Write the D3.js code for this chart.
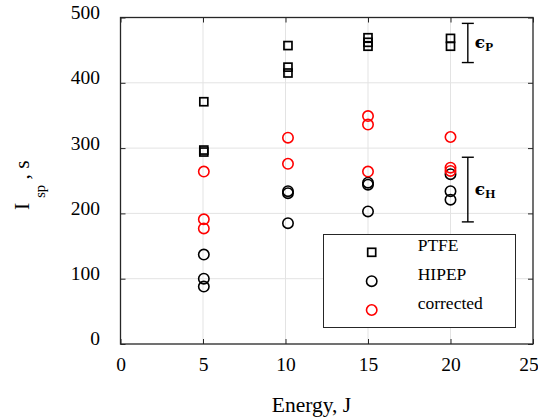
<!DOCTYPE html>
<html>
<head>
<meta charset="utf-8">
<script src="https://cdn.jsdelivr.net/npm/d3@7"></script>
<style>
  body { margin: 0; background: #fff; }
  text { font-family: "Liberation Serif", "Times New Roman", serif; fill: #000; }
</style>
</head>
<body>
<div id="chart"></div>
<script>
const width = 538;
const height = 419;
const margin = {top: 17.5, right: 5, bottom: 75, left: 120.5};

// data
const ptfeX = [5.05, 5.05, 5.05, 10.15, 10.15, 10.15, 15.0, 15.0, 15.0, 20.0, 20.0];
const ptfeY = [371, 297, 294, 457, 424, 415, 469, 462, 456, 468, 456];
const hipepX = [5.05, 5.05, 5.05, 10.15, 10.15, 10.15, 15.0, 15.0, 15.0, 20.0, 20.0, 20.0];
const hipepY = [137, 100, 88, 234, 231, 185, 247, 244, 203, 260, 234, 221];
const corrX = [5.05, 5.05, 5.05, 10.15, 10.15, 15.0, 15.0, 15.0, 20.0, 20.0, 20.0];
const corrY = [264, 191, 177, 316, 276, 349, 336, 264, 317, 270, 265];
const xTicks = [0, 5, 10, 15, 20, 25];
const yTicks = [0, 100, 200, 300, 400, 500];
const errBars = [
  {name: "P", x: 21.05, lo: 431, hi: 491},
  {name: "H", x: 21.05, lo: 187, hi: 286}
];
const legendItems = ["PTFE", "HIPEP", "corrected"];

const svg = d3.select("#chart").append("svg")
    .attr("width", width)
    .attr("height", height);

const x = d3.scaleLinear().domain([0, 25]).range([margin.left, width - margin.right]);
const y = d3.scaleLinear().domain([0, 500]).range([height - margin.bottom, margin.top]);

const axisColor = "#262626";

// grid
svg.append("g")
    .selectAll("line")
    .data(xTicks.slice(1, -1))
    .join("line")
    .attr("x1", d => x(d)).attr("x2", d => x(d))
    .attr("y1", y(0)).attr("y2", y(500))
    .attr("stroke", "#e3e3e3").attr("stroke-width", 1);
svg.append("g")
    .selectAll("line")
    .data(yTicks.slice(1, -1))
    .join("line")
    .attr("x1", x(0)).attr("x2", x(25))
    .attr("y1", d => y(d)).attr("y2", d => y(d))
    .attr("stroke", "#e3e3e3").attr("stroke-width", 1);

// axes, ticks pointing inward
const xAxis = svg.append("g")
    .attr("transform", `translate(0,${y(0)})`)
    .call(d3.axisBottom(x).tickValues(xTicks).tickSize(-5).tickSizeOuter(0).tickPadding(13));
const yAxis = svg.append("g")
    .attr("transform", `translate(${x(0)},0)`)
    .call(d3.axisLeft(y).tickValues(yTicks).tickSize(-5).tickSizeOuter(0).tickPadding(20.5));
svg.append("g")
    .attr("transform", `translate(0,${y(500)})`)
    .call(d3.axisTop(x).tickValues(xTicks).tickSize(-5).tickSizeOuter(0).tickFormat(""));
svg.append("g")
    .attr("transform", `translate(${x(25)},0)`)
    .call(d3.axisRight(y).tickValues(yTicks).tickSize(-5).tickSizeOuter(0).tickFormat(""));

svg.selectAll(".domain").remove();
svg.selectAll("g").attr("font-family", null).attr("font-size", null);
svg.selectAll(".tick line").attr("stroke", axisColor).attr("stroke-width", 1);
xAxis.selectAll("text").style("font-size", "19.5px");
// last label sits against the window edge, as in the reference
xAxis.selectAll(".tick text").filter(d => d === 25).attr("dx", -4.5);
yAxis.selectAll("text").style("font-size", "19.5px").attr("dy", "0.05em");
svg.selectAll(".tick text").attr("fill", "#000");

svg.append("rect")
    .attr("x", x(0)).attr("y", y(500))
    .attr("width", x(25) - x(0)).attr("height", y(0) - y(500))
    .attr("fill", "none").attr("stroke", axisColor).attr("stroke-width", 1.3);

// axis labels
svg.append("text")
    .attr("x", 311.5).attr("y", 412)
    .attr("text-anchor", "middle")
    .style("font-size", "21.5px")
    .text("Energy, J");

const yl = svg.append("text")
    .attr("transform", "translate(29,210) rotate(-90)")
    .style("font-size", "21.5px");
yl.append("tspan").text("I");
yl.append("tspan").attr("dx", 5).attr("dy", 16).style("font-size", "14.5px").text("sp");
yl.append("tspan").attr("dy", -16).text(" , s");

// markers
const sq = 8;
svg.append("g")
    .selectAll("rect")
    .data(ptfeX.map((d, i) => [d, ptfeY[i]]))
    .join("rect")
    .attr("x", d => x(d[0]) - sq / 2).attr("y", d => y(d[1]) - sq / 2)
    .attr("width", sq).attr("height", sq)
    .attr("fill", "none").attr("stroke", "#000").attr("stroke-width", 1.7);

svg.append("g")
    .selectAll("circle")
    .data(hipepX.map((d, i) => [d, hipepY[i]]))
    .join("circle")
    .attr("cx", d => x(d[0])).attr("cy", d => y(d[1])).attr("r", 5.2)
    .attr("fill", "none").attr("stroke", "#000").attr("stroke-width", 1.6);

svg.append("g")
    .selectAll("circle")
    .data(corrX.map((d, i) => [d, corrY[i]]))
    .join("circle")
    .attr("cx", d => x(d[0])).attr("cy", d => y(d[1])).attr("r", 5.2)
    .attr("fill", "none").attr("stroke", "#ff0000").attr("stroke-width", 1.6);

// error-range annotations
const eb = svg.append("g").selectAll("g").data(errBars).join("g");
eb.append("line")
    .attr("x1", d => x(d.x)).attr("x2", d => x(d.x))
    .attr("y1", d => y(d.lo)).attr("y2", d => y(d.hi))
    .attr("stroke", "#000").attr("stroke-width", 1.4);
eb.selectAll("line.cap")
    .data(d => [[d.x, d.lo], [d.x, d.hi]])
    .join("line")
    .attr("class", "cap")
    .attr("x1", d => x(d[0]) - 6).attr("x2", d => x(d[0]) + 6)
    .attr("y1", d => y(d[1])).attr("y2", d => y(d[1]))
    .attr("stroke", "#000").attr("stroke-width", 1.4);
const lab = eb.append("text")
    .attr("x", d => x(d.x) + 7)
    .attr("y", d => y((d.lo + d.hi) / 2) + 5)
    .style("font-weight", "bold");
lab.append("tspan").style("font-family", "DejaVu Serif").style("font-size", "17px").text("\u03F5");
lab.append("tspan").attr("dy", 3).style("font-size", "13px").text(d => d.name);

// legend
const lg = svg.append("g");
lg.append("rect")
    .attr("x", 323.5).attr("y", 234.5).attr("width", 192).attr("height", 93)
    .attr("fill", "#fff").attr("stroke", axisColor).attr("stroke-width", 1);
const rowY = d3.scalePoint().domain(legendItems).range([252.3, 310]);
lg.append("rect")
    .attr("x", 371.7 - sq / 2).attr("y", rowY("PTFE") - sq / 2)
    .attr("width", sq).attr("height", sq)
    .attr("fill", "none").attr("stroke", "#000").attr("stroke-width", 1.7);
lg.append("circle")
    .attr("cx", 371.7).attr("cy", rowY("HIPEP")).attr("r", 5.2)
    .attr("fill", "none").attr("stroke", "#000").attr("stroke-width", 1.6);
lg.append("circle")
    .attr("cx", 371.7).attr("cy", rowY("corrected")).attr("r", 5.2)
    .attr("fill", "none").attr("stroke", "#ff0000").attr("stroke-width", 1.6);
lg.selectAll("text")
    .data(legendItems)
    .join("text")
    .attr("x", 417.7)
    .attr("y", d => rowY(d) - 1)
    .style("font-size", "17.5px")
    .text(d => d);
</script>
</body>
</html>
